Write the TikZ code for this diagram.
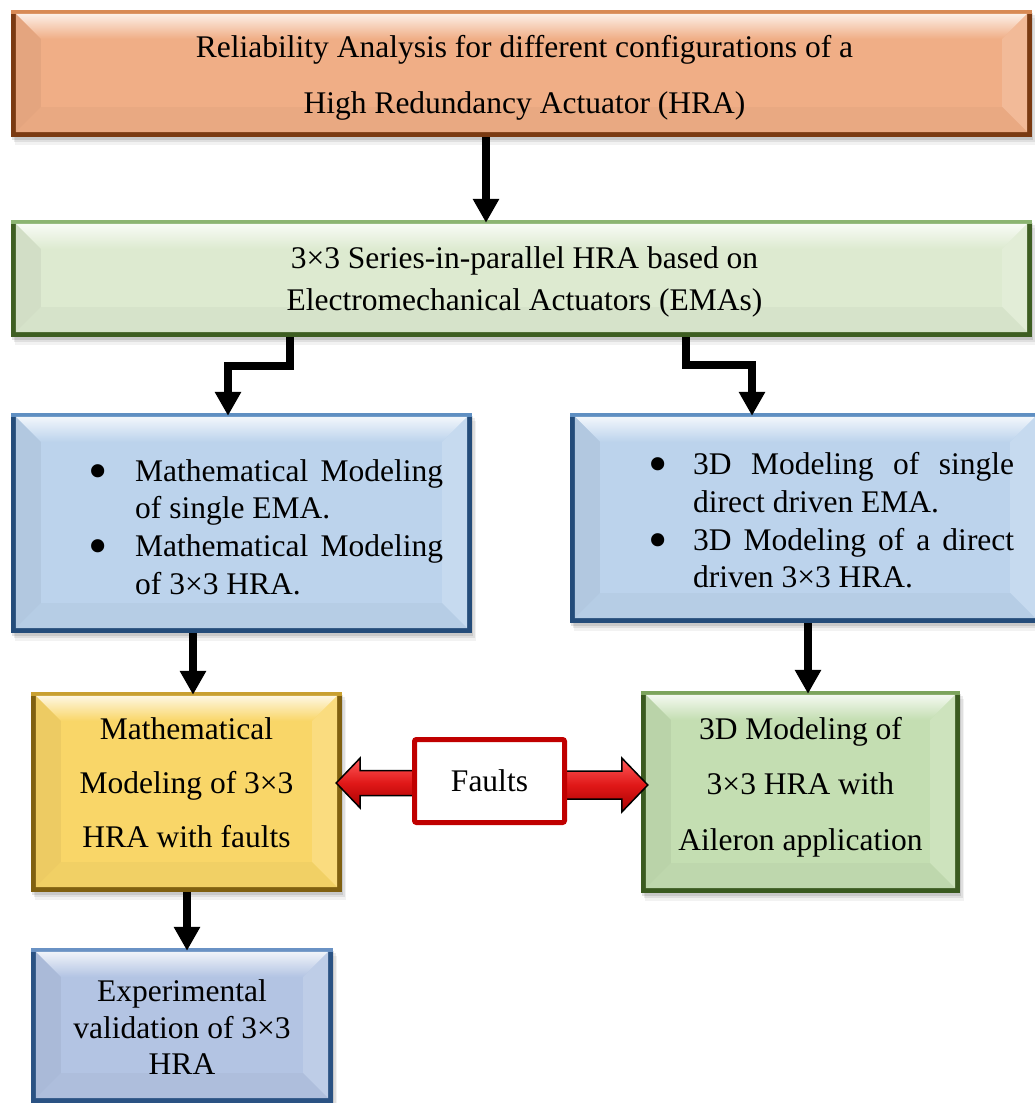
\documentclass[tikz,border=0pt]{standalone}
\usepackage{graphicx}
\usepackage{fontspec}
\setmainfont{Liberation Serif}
\usetikzlibrary{arrows.meta,calc,backgrounds}

% box palettes: face, rim, top rim
\definecolor{orFace}{HTML}{F0AE86}
\definecolor{orRim}{HTML}{7A3A12}
\definecolor{orTop}{HTML}{D88A55}
\definecolor{gnFace}{HTML}{DDEAD0}
\definecolor{gnRim}{HTML}{3E5E22}
\definecolor{gnTop}{HTML}{8CB472}
\definecolor{blFace}{HTML}{BCD3EC}
\definecolor{blRim}{HTML}{244C7A}
\definecolor{blTop}{HTML}{5F8FC2}
\definecolor{ylFace}{HTML}{F9D668}
\definecolor{ylRim}{HTML}{806010}
\definecolor{ylTop}{HTML}{C9A030}
\definecolor{dgFace}{HTML}{C4DEB2}
\definecolor{dgRim}{HTML}{3A5A20}
\definecolor{dgTop}{HTML}{7CA45C}
\definecolor{lvFace}{HTML}{B3C4E3}
\definecolor{lvRim}{HTML}{2A5283}
\definecolor{lvTop}{HTML}{6A92C4}
\definecolor{faultRed}{HTML}{C00000}
\definecolor{arrowHi}{HTML}{FF5A5A}
\definecolor{arrowMid}{HTML}{E01818}
\definecolor{arrowLo}{HTML}{A80000}

\newcommand\txtsize[1]{\fontsize{31.5}{#1}\selectfont}
\newcommand\bigdot{\raisebox{-8pt}{\scalebox{1.75}{•}}}

% bevelled panel drawn behind a named node: #1 node, #2 face, #3 rim, #4 top rim
\newcommand\bevelbox[4]{%
  \begin{scope}[on background layer]
    \fill[black,opacity=0.05] ($(#1.north west)+(4,8)$) rectangle ($(#1.south east)+(4,8)$);
    \fill[black,opacity=0.08] ($(#1.north west)+(3,5)$) rectangle ($(#1.south east)+(3,5)$);
    \fill[black,opacity=0.10] ($(#1.north west)+(1,3)$) rectangle ($(#1.south east)+(1,3)$);
    \fill[#3] (#1.north west) rectangle (#1.south east);
    \fill[#4] (#1.north west) rectangle ($(#1.north east)+(0,4)$);
    \coordinate (iA) at ($(#1.north west)+(5,4)$);
    \coordinate (iB) at ($(#1.north east)+(-5,4)$);
    \coordinate (iC) at ($(#1.south east)+(-5,-5)$);
    \coordinate (iD) at ($(#1.south west)+(5,-5)$);
    \coordinate (jA) at ($(iA)+(25,25)$);
    \coordinate (jB) at ($(iB)+(-25,25)$);
    \coordinate (jC) at ($(iC)+(-25,-25)$);
    \coordinate (jD) at ($(iD)+(25,-25)$);
    \fill[#2] (iA) rectangle (iC);
    \shade[top color=#2!20!white, bottom color=#2] (iA) -- (iB) -- (jB) -- (jA) -- cycle;
    \fill[#2!95!black] (iA) -- (jA) -- (jD) -- (iD) -- cycle;
    \fill[#2!85!white] (iB) -- (jB) -- (jC) -- (iC) -- cycle;
    \fill[#2!97!black] (iD) -- (jD) -- (jC) -- (iC) -- cycle;
  \end{scope}}

\tikzset{
  panel/.style={inner sep=0pt},
  boxtext/.style={inner sep=0pt, align=center, text=black},
  bullettext/.style={inner sep=0pt, align=left, anchor=north west, font=\txtsize{37.7}},
  flow/.style={line width=8.5pt, line join=miter, -{Triangle[width=25pt,length=24pt]}, shorten >=-3pt},
  faultbox/.style={draw=faultRed, line width=5pt, fill=white, rounded corners=2pt,
    minimum width=150pt, minimum height=83pt, inner sep=0pt, font=\txtsize{37}},
  faultarrow/.style={draw=black, line width=1.5pt, line join=miter,
    top color=arrowHi, bottom color=arrowLo, middle color=arrowMid},
}

\begin{document}
\begin{tikzpicture}[x=1pt,y=-1pt]
\useasboundingbox (0,0) rectangle (1034,1103);
\begin{scope}[on background layer]
  \fill[white] (0,0) rectangle (1034,1103);
\end{scope}

% panels
\node[panel, minimum width=1021pt, minimum height=127pt] (b1) at (521.5,73.5) {};
\bevelbox{b1}{orFace}{orRim}{orTop}
\node[boxtext, font=\txtsize{56}] (t1) at ($(b1.center)+(3,4)$)
  {Reliability Analysis for different configurations of a\\High Redundancy Actuator (HRA)};

\node[panel, minimum width=1021pt, minimum height=117pt] (b2) at (521.5,278.5) {};
\bevelbox{b2}{gnFace}{gnRim}{gnTop}
\node[boxtext, font=\txtsize{42}] (t2) at ($(b2.center)+(3,3)$)
  {3×3 Series-in-parallel HRA based on\\Electromechanical Actuators (EMAs)};

\node[panel, minimum width=461pt, minimum height=220pt] (b3) at (241.5,523) {};
\bevelbox{b3}{blFace}{blRim}{blTop}
\node[bullettext] (t3) at (88.5,459)
  {\makebox[46.5pt][l]{\bigdot}\makebox[308pt][s]{Mathematical Modeling}\\
   \hspace*{46.5pt}of single EMA.\\
   \makebox[46.5pt][l]{\bigdot}\makebox[308pt][s]{Mathematical Modeling}\\
   \hspace*{46.5pt}of 3×3 HRA.};

\node[panel, minimum width=470pt, minimum height=210pt] (b4) at (805,518) {};
\bevelbox{b4}{blFace}{blRim}{blTop}
\node[bullettext] (t4) at (648,452.5)
  {\makebox[45pt][l]{\bigdot}\makebox[321pt][s]{3D Modeling of single}\\
   \hspace*{45pt}direct driven EMA.\\
   \makebox[45pt][l]{\bigdot}\makebox[321pt][s]{3D Modeling of a direct}\\
   \hspace*{45pt}driven 3×3 HRA.};

\node[panel, minimum width=311pt, minimum height=200pt] (b5) at (186.5,792) {};
\bevelbox{b5}{ylFace}{ylRim}{ylTop}
\node[boxtext, font=\txtsize{54}] (t5) at ($(b5.center)+(0,-9)$)
  {Mathematical\\Modeling of 3×3\\HRA with faults};

\node[panel, minimum width=319pt, minimum height=202pt] (b6) at (800.5,792) {};
\bevelbox{b6}{dgFace}{dgRim}{dgTop}
\node[boxtext, font=\txtsize{55.5}] (t6) at ($(b6.center)+(0,-5)$)
  {3D Modeling of\\3×3 HRA with\\Aileron application};

\node[panel, minimum width=302pt, minimum height=155pt] (b7) at (182,1025.5) {};
\bevelbox{b7}{lvFace}{lvRim}{lvTop}
\node[boxtext, font=\txtsize{36.5}] (t7) at ($(b7.center)+(0,2)$)
  {Experimental\\validation of 3×3\\HRA};

% faults label with its two block arrows
\node[faultbox] (fx) at (489.5,781) {Faults};
\begin{scope}[on background layer]
  \coordinate (lt) at ($(b5.east |- fx.center)+(-6,2)$);
  \coordinate (rt) at ($(b6.west |- fx.center)+(7,4)$);
  \path[faultarrow] (lt) -- ++(24,-25) -- ++(0,12.5) -- ++(130,0) -- ++(0,25)
    -- ++(-130,0) -- ++(0,12.5) -- cycle;
  \path[faultarrow] (rt) -- ++(-26,-27) -- ++(0,13) -- ++(-130,0) -- ++(0,28)
    -- ++(130,0) -- ++(0,13) -- cycle;
\end{scope}

% flow arrows
\draw[flow] ([xshift=-35.5pt]b1.south) -- ([xshift=-35.5pt]b2.north);
\draw[flow] ([xshift=-231.5pt]b2.south) -- ++(0,29) -| ([xshift=-13.5pt]b3.north);
\draw[flow] ([xshift=164.5pt]b2.south) -- ++(0,28) -| ([xshift=-53pt]b4.north);
\draw[flow] ([xshift=-48.5pt]b3.south) -- ([xshift=-48.5pt]b3.south |- b5.north);
\draw[flow] ([xshift=7.5pt]b6.north |- b4.south) -- ([xshift=7.5pt]b6.north);
\draw[flow] ([xshift=0.5pt]b5.south) -- ([xshift=0.5pt]b5.south |- b7.north);
\end{tikzpicture}
\end{document}
